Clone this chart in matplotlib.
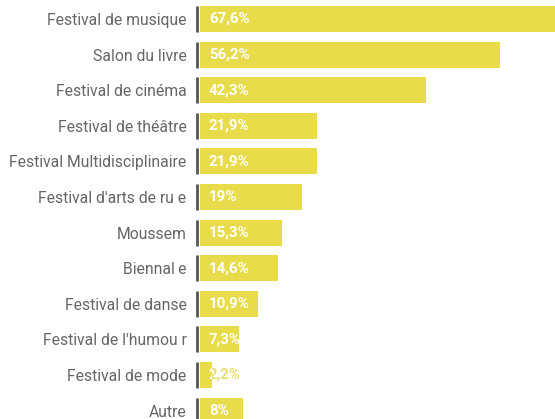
import matplotlib.pyplot as plt
from matplotlib.patches import Rectangle

# Share of respondents per type of cultural event (%)
categories = [
    "Festival de musique",
    "Salon du livre",
    "Festival de cinéma",
    "Festival de théâtre",
    "Festival Multidisciplinaire",
    "Festival d'arts de ru e",
    "Moussem",
    "Biennal\u2009e",
    "Festival de danse",
    "Festival de l'humou r",
    "Festival de mode",
    "Autre",
]
values = [67.6, 56.2, 42.3, 21.9, 21.9, 19, 15.3, 14.6, 10.9, 7.3, 2.2, 8]
value_labels = ["67,6%", "56,2%", "42,3%", "21,9%", "21,9%", "19%",
                "15,3%", "14,6%", "10,9%", "7,3%", "2,2%", "8%"]

plt.rcParams['font.family'] = ['Roboto', 'DejaVu Sans']

bar_color = "#e8dc4b"
bar_h = 0.73

fig = plt.figure(figsize=(5.55, 4.19), dpi=100)
ax = fig.add_axes([200.2 / 555, 0, 1 - 200.2 / 555, 1])

pos = list(range(len(categories)))
bars = ax.barh(pos, values, height=bar_h, color=bar_color, zorder=2)

ax.set_xlim(0, 66.5)
ax.set_ylim(11.236, -0.534)

# short dark marker just left of each bar
ax.vlines([-0.55] * len(pos), [p - bar_h / 2 for p in pos],
          [p + bar_h / 2 for p in pos], color="#555555", lw=2.0,
          clip_on=False, zorder=3)

ax.set_yticks(pos)
ax.set_yticklabels(categories, fontsize=11.3, color="#666666")
ax.tick_params(axis="y", length=0, pad=9.8)
ax.set_xticks([])
for s in ax.spines.values():
    s.set_visible(False)

fs = 10.8
for bar, lab in zip(bars, value_labels):
    y = bar.get_y() + bar.get_height() / 2
    if bar.get_width() < 5:
        # label sticks out of the bar: yellow outside, white inside
        ax.annotate(lab, (0, y), xytext=(6.2, 0), textcoords="offset points",
                    ha="left", va="center", fontsize=fs, fontweight="bold",
                    color="#ebdf6a", zorder=4)
        t = ax.annotate(lab, (0, y), xytext=(6.2, 0), textcoords="offset points",
                        ha="left", va="center", fontsize=fs, fontweight="bold",
                        color="white", zorder=5)
        clip = Rectangle((bar.get_x(), bar.get_y()), bar.get_width(),
                         bar.get_height(), transform=ax.transData)
        t.set_clip_path(clip)
    else:
        ax.annotate(lab, (0, y), xytext=(6.2, 0), textcoords="offset points",
                    ha="left", va="center", fontsize=fs, fontweight="bold",
                    color="white", zorder=4)

fig.savefig("out.png", dpi=100)
